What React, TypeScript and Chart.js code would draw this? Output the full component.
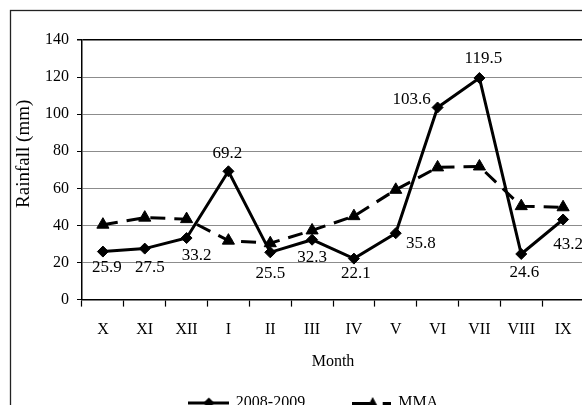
import React, { useEffect, useRef } from "react";
import { Chart, registerables } from "chart.js";

Chart.register(...registerables);

const months = ["X", "XI", "XII", "I", "II", "III", "IV", "V", "VI", "VII", "VIII", "IX"];
const rain2008 = [25.9, 27.5, 33.2, 69.2, 25.5, 32.3, 22.1, 35.8, 103.6, 119.5, 24.6, 43.2];
const mma = [40.4, 44.2, 43.4, 31.8, 30.4, 37.3, 45.0, 59.2, 71.3, 71.8, 50.4, 49.8];
const yTicks = [0, 20, 40, 60, 80, 100, 120, 140];
const yTitle = "Rainfall (mm)";
const xTitle = "Month";

// label offsets (dx, dy) relative to each point of 2008-2009
const labelOffsets: [number, number][] = [
  [4, 16], [5, 19], [10, 17], [-1, -18], [0, 21], [0, 18],
  [2, 15], [25, 10], [-26, -8], [4, -19], [3, 19], [5, 25],
];

const FONT = "'Liberation Serif', 'Times New Roman', serif";
const CANVAS_W = 584;
const CANVAS_H = 405;
const LEFT_PAD = 44;

function makeDiamondSymbol(): HTMLCanvasElement {
  const c = document.createElement("canvas");
  c.width = 41;
  c.height = 14;
  const g = c.getContext("2d")!;
  g.strokeStyle = "#000";
  g.lineWidth = 3.2;
  g.beginPath();
  g.moveTo(0, 7);
  g.lineTo(41, 7);
  g.stroke();
  g.fillStyle = "#000";
  g.beginPath();
  g.moveTo(20.5, 1.5);
  g.lineTo(26, 7);
  g.lineTo(20.5, 12.5);
  g.lineTo(15, 7);
  g.closePath();
  g.fill();
  return c;
}

function makeTriangleSymbol(): HTMLCanvasElement {
  const c = document.createElement("canvas");
  c.width = 39;
  c.height = 14;
  const g = c.getContext("2d")!;
  g.strokeStyle = "#000";
  g.lineWidth = 3.2;
  g.beginPath();
  g.moveTo(0, 7.5);
  g.lineTo(18, 7.5);
  g.moveTo(31, 7.5);
  g.lineTo(39, 7.5);
  g.stroke();
  g.fillStyle = "#000";
  g.beginPath();
  g.moveTo(21, 1);
  g.lineTo(27.5, 13);
  g.lineTo(14.5, 13);
  g.closePath();
  g.fill();
  return c;
}

const framePlugin = {
  id: "frame",
  beforeDraw(chart: any) {
    const ctx = chart.ctx;
    ctx.save();
    ctx.fillStyle = "#fff";
    ctx.fillRect(0, 0, chart.width, chart.height);
    ctx.strokeStyle = "#222";
    ctx.lineWidth = 1.3;
    ctx.strokeRect(10.5, 10.5, 800, 800);
    ctx.restore();
  },
  afterDraw(chart: any) {
    const ctx = chart.ctx;
    const area = chart.chartArea;
    ctx.save();
    ctx.font = `19px ${FONT}`;
    ctx.fillStyle = "#000";
    ctx.textAlign = "center";
    ctx.textBaseline = "middle";
    ctx.translate(24, (area.top + area.bottom) / 2 - 16);
    ctx.rotate(-Math.PI / 2);
    ctx.fillText(yTitle, 0, 0);
    ctx.restore();
  },
};

const labelPlugin = {
  id: "pointLabels",
  afterDatasetsDraw(chart: any) {
    const ctx = chart.ctx;
    const meta = chart.getDatasetMeta(0);
    ctx.save();
    ctx.font = `17px ${FONT}`;
    ctx.fillStyle = "#000";
    ctx.textAlign = "center";
    ctx.textBaseline = "middle";
    meta.data.forEach((pt: any, i: number) => {
      const [dx, dy] = labelOffsets[i];
      ctx.fillText(String(rain2008[i]), pt.x + dx, pt.y + dy);
    });
    ctx.restore();
  },
};

export default function App() {
  const ref = useRef<HTMLCanvasElement>(null);
  useEffect(() => {
    if (!ref.current) return;
    Chart.defaults.font.family = FONT;
    Chart.defaults.color = "#000";
    const diamondSym = makeDiamondSymbol();
    const triSym = makeTriangleSymbol();
    const chart = new Chart(ref.current, {
      type: "line",
      data: {
        labels: months,
        datasets: [
          {
            label: "2008-2009",
            data: rain2008,
            borderColor: "#000",
            backgroundColor: "#000",
            borderWidth: 3,
            pointStyle: "rectRot",
            pointRadius: 5.5,
            pointBackgroundColor: "#000",
            pointBorderColor: "#000",
            pointBorderWidth: 1,
            tension: 0,
          },
          {
            label: "MMA",
            data: mma,
            borderColor: "#000",
            backgroundColor: "#000",
            borderWidth: 3,
            borderDash: [15, 9],
            pointStyle: "triangle",
            pointRadius: 7,
            pointBackgroundColor: "#000",
            pointBorderColor: "#000",
            pointBorderWidth: 1,
            tension: 0,
          },
        ],
      },
      options: {
        animation: false,
        responsive: false,
        devicePixelRatio: 1,
        layout: { autoPadding: false, padding: { left: LEFT_PAD, right: 0, top: 40, bottom: -16 } },
        plugins: {
          legend: {
            display: true,
            position: "bottom",
            labels: {
              font: { size: 16, family: FONT },
              color: "#000",
              usePointStyle: true,
              pointStyleWidth: 38,
              padding: 47,
              generateLabels: (ch: any) =>
                ch.data.datasets.map((ds: any, i: number) => ({
                  text: ds.label,
                  pointStyle: i === 0 ? diamondSym : triSym,
                  fillStyle: "#000",
                  strokeStyle: "#000",
                  lineWidth: 0,
                  hidden: false,
                  datasetIndex: i,
                  fontColor: "#000",
                })),
            },
          },
          tooltip: { enabled: false },
        },
        scales: {
          x: {
            type: "category",
            offset: true,
            afterFit: (scale: any) => {
              scale.paddingLeft = 0;
              scale.paddingRight = 0;
            },
            grid: {
              offset: true,
              drawOnChartArea: false,
              drawTicks: true,
              tickLength: 7,
              tickColor: "#000",
              tickWidth: 1.2,
            },
            border: { color: "#000", width: 1.5 },
            ticks: { font: { size: 16, family: FONT }, color: "#000", padding: 14 },
            title: {
              display: true,
              text: xTitle,
              font: { size: 16, family: FONT },
              color: "#000",
              padding: { top: -2, bottom: -23 },
            },
          },
          y: {
            min: 0,
            max: 140,
            afterBuildTicks: (scale: any) => {
              scale.ticks = yTicks.map((v) => ({ value: v }));
            },
            afterFit: (scale: any) => {
              scale.width = 82 - LEFT_PAD;
            },
            grid: {
              color: (c: any) => (c.tick && c.tick.value === 140 ? "#000" : "#8c8c8c"),
              lineWidth: (c: any) => (c.tick && c.tick.value === 140 ? 1.5 : 1),
              tickLength: 5,
              tickColor: "#000",
            },
            border: { color: "#000", width: 1.5 },
            ticks: { font: { size: 16, family: FONT }, color: "#000", padding: 8 },
            title: { display: false },
          },
        },
      },
      plugins: [framePlugin, labelPlugin],
    } as any);
    return () => chart.destroy();
  }, []);
  return (
    <div style={{ position: "fixed", left: 0, top: 0, width: 582, height: 405, overflow: "hidden", background: "#fff" }}>
      <canvas
        ref={ref}
        width={CANVAS_W}
        height={CANVAS_H}
        style={{ width: CANVAS_W, height: CANVAS_H, display: "block" }}
      />
    </div>
  );
}
